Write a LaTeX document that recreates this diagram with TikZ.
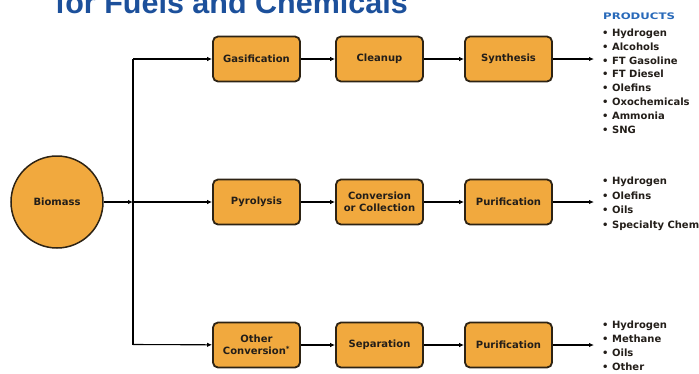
\documentclass[tikz,border=0pt]{standalone}
\usepackage{fontspec}
\setmainfont{DejaVu Sans}
\newfontfamily\titlefont{Liberation Sans}
\newfontfamily\prodfont[FakeStretch=1.3]{DejaVu Sans}
\usetikzlibrary{arrows.meta}
\definecolor{boxfill}{RGB}{241,169,62}
\definecolor{boxline}{RGB}{45,35,20}
\definecolor{titleblue}{RGB}{28,80,155}
\definecolor{prodblue}{RGB}{40,105,185}
\definecolor{txt}{RGB}{35,30,25}
\tikzset{
  stepbox/.style={draw=boxline, line width=1.8pt, fill=boxfill, rounded corners=5pt,
    minimum width=87pt, minimum height=45pt, inner sep=1pt, align=center,
    font=\fontsize{10}{12.5}\selectfont\bfseries, text=txt},
  srcnode/.style={circle, draw=boxline, line width=1.5pt, fill=boxfill,
    minimum size=92pt, inner sep=0pt, font=\fontsize{10}{12}\selectfont\bfseries, text=txt},
  flow/.style={draw=black, line width=1.1pt, -{Latex[length=5pt,width=4.5pt]}},
  trunk/.style={draw=black, line width=1.7pt},
  prodtext/.style={anchor=base west, inner sep=0pt, font=\fontsize{10}{12}\selectfont\bfseries, text=txt},
  prodhead/.style={anchor=base west, inner sep=0pt, font=\prodfont\fontsize{9}{11}\selectfont\bfseries, text=prodblue},
}
\begin{document}
\begin{tikzpicture}[x=1pt,y=-1pt]
\useasboundingbox (0,0) rectangle (699,373);
\begin{scope}
\clip (0,0) rectangle (699,373);
\node[anchor=base west, inner sep=0pt, text=titleblue, font=\titlefont\fontsize{30.5}{34}\selectfont\bfseries] (title) at (55,13.5) {for Fuels and Chemicals};
\end{scope}

\node[srcnode] (bio) at (57,202) {Biomass};

\coordinate (jt) at (133,59);
\coordinate (jm) at (133,202);
\coordinate (jb) at (133,344.5);

\node[stepbox] (gas) at (256.5,59) {Gasification};
\node[stepbox] (clean) at (379.5,59) {Cleanup};
\node[stepbox] (synth) at (508.5,59) {Synthesis};

\node[stepbox] (pyro) at (256.5,202) {Pyrolysis};
\node[stepbox] (conv) at (379.5,202) {Conversion\\or Collection};
\node[stepbox] (puri1) at (508.5,202) {Purification};

\node[stepbox] (other) at (256.5,345) {Other\\Conversion\textsuperscript{*}};
\node[stepbox] (sep) at (379.5,345) {Separation};
\node[stepbox] (puri2) at (508.5,345) {Purification};

\coordinate (pt) at (594,59);
\coordinate (pm) at (594,202);
\coordinate (pb) at (594,345);

\draw[trunk] (jt) -- (jb);
\draw[flow] (bio) -- (jm);
\draw[flow] (jm) -- (pyro);
\draw[flow] (jt) -- (gas);
\draw[flow] (jb) -- (other);

\draw[flow] (gas) -- (clean);
\draw[flow] (clean) -- (synth);
\draw[flow] (synth) -- (pt);

\draw[flow] (pyro) -- (conv);
\draw[flow] (conv) -- (puri1);
\draw[flow] (puri1) -- (pm);

\draw[flow] (other) -- (sep);
\draw[flow] (sep) -- (puri2);
\draw[flow] (puri2) -- (pb);

\node[prodhead] (ph) at (603,19) {PRODUCTS};
\node[prodtext] (a1) at (602,36.5) {• Hydrogen};
\node[prodtext] (a2) at (602,50.3) {• Alcohols};
\node[prodtext] (a3) at (602,64.1) {• FT Gasoline};
\node[prodtext] (a4) at (602,77.9) {• FT Diesel};
\node[prodtext] (a5) at (602,91.7) {• Olefins};
\node[prodtext] (a6) at (602,105.5) {• Oxochemicals};
\node[prodtext] (a7) at (602,119.3) {• Ammonia};
\node[prodtext] (a8) at (602,133.1) {• SNG};

\node[prodtext] (b1) at (602,184.5) {• Hydrogen};
\node[prodtext] (b2) at (602,199) {• Olefins};
\node[prodtext] (b3) at (602,213.5) {• Oils};
\node[prodtext] (b4) at (602,228) {• Specialty Chem};

\node[prodtext] (c1) at (602,328.5) {• Hydrogen};
\node[prodtext] (c2) at (602,342.5) {• Methane};
\node[prodtext] (c3) at (602,356.5) {• Oils};
\node[prodtext] (c4) at (602,370.5) {• Other};
\end{tikzpicture}
\end{document}
